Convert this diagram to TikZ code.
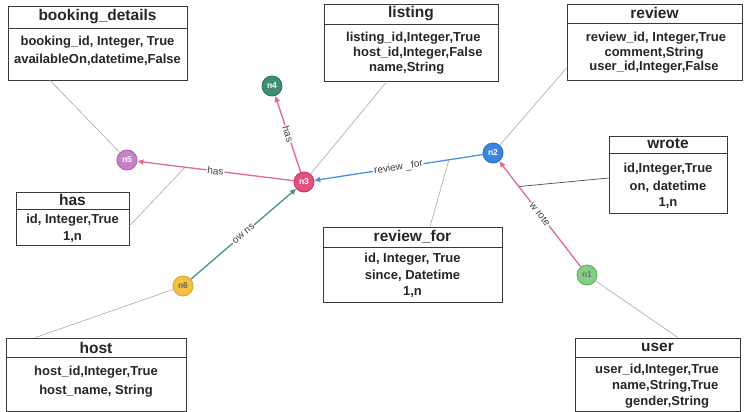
\documentclass[tikz,border=0pt]{standalone}
\usepackage{fontspec}
\setmainfont{Liberation Sans}
\usetikzlibrary{arrows.meta,calc}

\definecolor{boxline}{HTML}{3A3A3A}
\definecolor{txt}{HTML}{262626}
\definecolor{linkgray}{HTML}{A8A8A8}
\definecolor{relpink}{HTML}{E3698F}
\definecolor{relblue}{HTML}{4A90E2}
\definecolor{relgreen}{HTML}{4A9478}
\definecolor{fillA}{HTML}{83CF84}\definecolor{drawA}{HTML}{5DAE5E}
\definecolor{fillB}{HTML}{3C84DD}\definecolor{drawB}{HTML}{2E6DBF}
\definecolor{fillC}{HTML}{E2517F}\definecolor{drawC}{HTML}{C43A66}
\definecolor{fillD}{HTML}{3F8E6F}\definecolor{drawD}{HTML}{2F7358}
\definecolor{fillE}{HTML}{C880C9}\definecolor{drawE}{HTML}{A862AA}
\definecolor{fillF}{HTML}{F5C142}\definecolor{drawF}{HTML}{D9A52A}

\tikzset{
  entity/.style={draw=boxline, line width=0.8pt, inner sep=0pt},
  hdr/.style={draw=boxline, line width=0.8pt},
  etitle/.style={font=\fontsize{15.5}{17}\selectfont\bfseries, text=txt, inner sep=0pt},
  efield/.style={font=\fontsize{13}{15}\selectfont\bfseries, text=txt, inner sep=0pt},
  gnode/.style={circle, minimum size=20pt, inner sep=0pt, line width=0.9pt,
    font=\fontsize{8.5}{9}\selectfont\bfseries, text=white},
  rel/.style={line width=1.3pt, -{Triangle[length=6pt,width=5pt]}},
  rlabel/.style={font=\fontsize{10}{11}\selectfont, text=black!75, fill=white,
    inner sep=1pt, sloped, pos=0.5},
  link/.style={draw=linkgray, line width=0.6pt},
}

\begin{document}
\begin{tikzpicture}[x=1pt,y=-1pt]
\useasboundingbox (0,0) rectangle (745,412);

% ---------- entity tables ----------
% booking_details
\node[entity, minimum width=179pt, minimum height=74pt] (bd) at (97.5,43) {};
\draw[hdr] (bd.west |- 0,28) -- (bd.east |- 0,28);
\node[etitle] (bdT) at (97.5,17) {booking\_details};
\node[efield] (bd1) at (97.5,42) {booking\_id, Integer, True};
\node[efield] (bd2) at (97.5,60) {availableOn,datetime,False};

% listing
\node[entity, minimum width=174pt, minimum height=77pt] (lst) at (411,42.5) {};
\draw[hdr] (lst.west |- 0,24) -- (lst.east |- 0,24);
\node[etitle] (lstT) at (411,14) {listing};
\node[efield, anchor=west] (lst1) at (346,38) {listing\_id,Integer,True};
\node[efield, anchor=west] (lst2) at (353,53) {host\_id,Integer,False};
\node[efield, anchor=west] (lst3) at (369,68) {name,String};

% review
\node[entity, minimum width=175pt, minimum height=76pt] (rev) at (654.5,42) {};
\draw[hdr] (rev.west |- 0,23) -- (rev.east |- 0,23);
\node[etitle] (revT) at (654.5,13) {review};
\node[efield] (rev1) at (656,38) {review\_id, Integer,True};
\node[efield] (rev2) at (654,53) {comment,String};
\node[efield] (rev3) at (654,67) {user\_id,Integer,False};

% has
\node[entity, minimum width=113pt, minimum height=53pt] (hs) at (72.5,218.5) {};
\draw[hdr] (hs.west |- 0,209) -- (hs.east |- 0,209);
\node[etitle] (hsT) at (72.5,200) {has};
\node[efield] (hs1) at (72.5,220) {id, Integer,True};
\node[efield] (hs2) at (72.5,237) {1,n};

% wrote
\node[entity, minimum width=118pt, minimum height=77pt] (wr) at (668,174.5) {};
\draw[hdr] (wr.west |- 0,153) -- (wr.east |- 0,153);
\node[etitle] (wrT) at (668,144) {wrote};
\node[efield] (wr1) at (668,169) {id,Integer,True};
\node[efield] (wr2) at (668,187) {on, datetime};
\node[efield] (wr3) at (668,203) {1,n};

% review_for
\node[entity, minimum width=179pt, minimum height=75pt] (rf) at (412.5,264.5) {};
\draw[hdr] (rf.west |- 0,247) -- (rf.east |- 0,247);
\node[etitle] (rfT) at (412.5,237) {review\_for};
\node[efield] (rf1) at (412.5,259) {id, Integer, True};
\node[efield] (rf2) at (412.5,276) {since, Datetime};
\node[efield] (rf3) at (412.5,292) {1,n};

% host
\node[entity, minimum width=180pt, minimum height=73pt] (hst) at (96,374.5) {};
\draw[hdr] (hst.west |- 0,357) -- (hst.east |- 0,357);
\node[etitle] (hstT) at (96,348) {host};
\node[efield] (hst1) at (96,372) {host\_id,Integer,True};
\node[efield] (hst2) at (96,391) {host\_name, String};

% user
\node[entity, minimum width=165pt, minimum height=73pt] (usr) at (657.5,374.5) {};
\draw[hdr] (usr.west |- 0,357) -- (usr.east |- 0,357);
\node[etitle] (usrT) at (657.5,347) {user};
\node[efield, anchor=west] (usr1) at (595,370) {user\_id,Integer,True};
\node[efield, anchor=west] (usr2) at (612,386) {name,String,True};
\node[efield, anchor=west] (usr3) at (625,402) {gender,String};

% ---------- graph nodes ----------
\node[gnode, fill=fillA, draw=drawA, text=black!55] (n1) at (587,275) {n1};
\node[gnode, fill=fillB, draw=drawB] (n2) at (493,153) {n2};
\node[gnode, fill=fillC, draw=drawC] (n3) at (304,182) {n3};
\node[gnode, fill=fillD, draw=drawD] (n4) at (272,86) {n4};
\node[gnode, fill=fillE, draw=drawE] (n5) at (127,160) {n5};
\node[gnode, fill=fillF, draw=drawF, text=black!60] (n6) at (183,286) {n6};

% points on the relationships where their tables attach
\coordinate (m35) at ($(n3)!0.672!(n5)$);
\coordinate (m23) at ($(n2)!0.233!(n3)$);
\coordinate (m12) at ($(n1)!0.725!(n2)$);

% ---------- thin links from tables ----------
\draw[link] (bd.south -| 50,0) -- (n5);
\draw[link] (lst.south -| 387,0) -- (n3);
\draw[link] (rev.west |- 0,68) -- (n2);
\draw[link] (hs.east |- 0,226) -- (m35);
\draw[link] (rf.north -| 430,0) -- (m23);
\draw[link, draw=black!70, line width=0.7pt] (wr.west |- 0,178) -- (m12);
\draw[link] (hst.north -| 35,0) -- (n6);
\draw[link] (usr.north -| 678,0) -- (n1);

% ---------- relationships ----------
\draw[rel, relpink] (n3) -- node[rlabel] (lhas1) {has} (n5);
\draw[rel, relpink] (n3) -- node[rlabel] (lhas2) {has} (n4);
\draw[rel, relblue] (n2) -- node[rlabel] (lrf) {review \_for} (n3);
\draw[rel, relpink] (n1) -- node[rlabel] (lwr) {w rote} (n2);
\draw[rel, relgreen] (n6) -- node[rlabel] (low) {ow ns} (n3);

\end{tikzpicture}
\end{document}
